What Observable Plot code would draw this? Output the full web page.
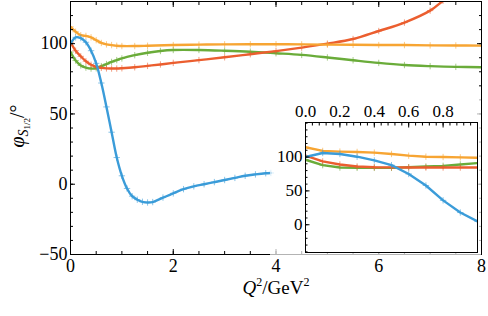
<!DOCTYPE html>
<html><head><meta charset="utf-8">
<script src="https://cdn.jsdelivr.net/npm/d3@7"></script>
<script src="https://cdn.jsdelivr.net/npm/@observablehq/plot@0.6"></script>
<style>
body{margin:0;background:#fff;}
#wrap{position:relative;width:488px;height:316px;}
#main,#inset{position:absolute;}
#main{left:0;top:0;}
#inset{left:270px;top:95px;}
svg text, svg tspan{font-family:"Liberation Serif",serif !important;}
</style></head><body>
<div id="wrap"><div id="main"></div><div id="inset"></div></div>
<script>
// ---- main panel data ----
const blueX   = [0,0.1,0.2,0.3,0.4,0.5,0.6,0.7,0.8,0.9,1.0,1.1,1.2,1.3,1.4,1.5,1.6,1.8,2.0,2.2,2.4,2.6,2.8,3.0,3.2,3.4,3.6,3.8,3.9];
const blueY   = [100,104.5,104,101,95,86,72,55,37,19,6,-3,-8.5,-11,-12.5,-13,-12.7,-9.5,-6.5,-3.5,-1.5,0,1.5,3,4.5,6,7,7.8,8];
const orangeX = [0,0.1,0.2,0.3,0.4,0.5,0.6,0.7,0.8,0.9,1.0,1.25,1.5,2,2.5,3,3.5,4,4.5,5,5.5,6,6.5,7,7.5,8];
const orangeY = [112,108.5,106,105.5,104.5,102.5,100.5,99.5,99,98.5,98.3,98.3,98.5,99,99.3,99.5,99.6,99.6,99.5,99.3,99.2,99,99,98.8,98.7,98.6];
const greenX  = [0,0.1,0.2,0.3,0.4,0.5,0.6,0.7,0.8,0.9,1.0,1.25,1.5,1.75,2,2.5,3,3.5,4,4.5,5,5.5,6,6.5,7,7.5,8];
const greenY  = [94,88,84.5,83,82.3,82.5,84,85.5,87,88.3,89.5,91.8,93.5,94.8,95.5,95.5,95,94.3,93.2,92,90.2,88.2,86.3,84.8,84,83.5,83.2];
const redX    = [0,0.1,0.2,0.3,0.4,0.5,0.6,0.7,0.8,0.9,1.0,1.25,1.5,1.75,2,2.5,3,3.5,4,4.5,5,5.5,6,6.5,7,7.25,7.5];
const redY    = [101,95,91,87.5,85,83.5,82.8,82.4,82.3,82.3,82.5,83.2,84.2,85.2,86.3,88.3,90.3,92.5,94.7,97.2,100,103.3,109,115,123.5,130.5,138];
// ---- inset data ----
const insetX       = [0,0.1,0.2,0.3,0.4,0.5,0.6,0.7,0.8,0.9,1.0];
const insetOrangeY = [114.5,109,108,107.5,106.5,104.5,102,100.5,100,99.5,99];
const insetBlueY   = [100,106,104.5,100.5,95,88,75,58,36,18,5];
const insetGreenY  = [96,88,84.5,84,84,84,85,86,87,89,91];
const insetRedY    = [102,93.5,89,86,85,84.7,84.5,84.5,84.5,84.5,84.5];
// ---- ticks ----
const xMajor = [0,2,4,6,8];
const xMinor = d3.range(0, 8.001, 0.5);
const yMajor = [-50,0,50,100];
const yMinor = d3.range(-50, 131, 10);
const ixMajor = [0,0.2,0.4,0.6,0.8];
const ixMinor = d3.range(0, 1.001, 0.04);
const iyMajor = [0,50,100];
const iyMinor = d3.range(-40, 151, 10);

const colors = {blue:"#3b9cd9", orange:"#f7a533", green:"#6aac3a", red:"#eb5e2f"};
const font = "Liberation Serif";

function rows(xs, ys, key){ return xs.map((x,i)=>({x, y: ys[i], s:key})); }
const mainSeries = [
  ["green", greenX, greenY], ["red", redX, redY], ["orange", orangeX, orangeY], ["blue", blueX, blueY]
].map(([k,xs,ys])=>({k, data: rows(xs,ys,k)}));

function seriesMarks(series, curve){
  const m = [];
  for (const {k, data} of series) {
    m.push(Plot.line(data, {x:"x", y:"y", stroke: colors[k], strokeWidth: 2.4, curve, clip: true}));
    m.push(Plot.dot(data, {x:"x", y:"y", symbol:"plus", r: 2.2, stroke: colors[k], strokeOpacity: 0.6, strokeWidth: 1, clip: true}));
  }
  return m;
}

const main = Plot.plot({
  width: 488, height: 316,
  marginLeft: 70, marginRight: 7, marginTop: 1, marginBottom: 62,
  style: {fontSize: "18px", background: "transparent", color: "#000"},
  x: {domain: [0, 8]},
  y: {domain: [-50, 130]},
  marks: [
    ...seriesMarks(mainSeries, "catmull-rom"),
    Plot.frame({stroke: "#000", strokeWidth: 1}),
    Plot.axisX({ticks: xMajor, tickSize: 0, tickPadding: 5, tickFormat: d => String(d), label: null}),
    Plot.axisX({ticks: xMinor, tickSize: -3, fill: "none", label: null}),
    Plot.axisX({ticks: xMajor, tickSize: -5, fill: "none", label: null}),
    Plot.axisX({anchor: "top", ticks: xMinor, tickSize: -3, fill: "none", label: null}),
    Plot.axisX({anchor: "top", ticks: xMajor, tickSize: -5, fill: "none", label: null}),
    Plot.axisY({ticks: yMajor, tickSize: 0, tickPadding: 3, tickFormat: d => d < 0 ? "\u2212" + Math.abs(d) : String(d), label: null}),
    Plot.axisY({ticks: yMinor, tickSize: -3, fill: "none", label: null}),
    Plot.axisY({ticks: yMajor, tickSize: -5, fill: "none", label: null}),
    Plot.axisY({anchor: "right", ticks: yMinor, tickSize: -3, fill: "none", label: null}),
    Plot.axisY({anchor: "right", ticks: yMajor, tickSize: -5, fill: "none", label: null})
  ]
});
document.getElementById("main").appendChild(main);

const msv = d3.select(main);
// y label
const yl = msv.append("text").attr("transform", "translate(24,126) rotate(-90)")
  .attr("text-anchor", "middle").attr("font-size", 20).attr("fill", "#000");
yl.append("tspan").attr("font-style", "italic").text("\u03C6");
yl.append("tspan").attr("font-style", "italic").attr("font-size", 14).attr("dy", 4).text("S");
yl.append("tspan").attr("font-size", 9).attr("dy", 2).text("1/2");
yl.append("tspan").attr("dy", -6).text("/\u00B0");
// x label
const xl = msv.append("text").attr("x", 276).attr("y", 294)
  .attr("text-anchor", "middle").attr("font-size", 19).attr("fill", "#000");
xl.append("tspan").attr("font-style", "italic").text("Q");
xl.append("tspan").attr("font-size", 12).attr("dy", -8).text("2");
xl.append("tspan").attr("dy", 8).text("/GeV");
xl.append("tspan").attr("font-size", 12).attr("dy", -8).text("2");

// ---- inset ----
const insetSeries = [
  ["green", insetGreenY], ["red", insetRedY], ["orange", insetOrangeY], ["blue", insetBlueY]
].map(([k, ys]) => ({k, data: rows(insetX, ys, k)}));

const inset = Plot.plot({
  width: 211, height: 161,
  marginLeft: 35, marginRight: 4, marginTop: 27, marginBottom: 4,
  style: {fontSize: "17px", background: "rgba(255,255,255,0.7)", color: "#000", overflow: "visible"},
  x: {domain: [0, 1]},
  y: {domain: [-41, 151]},
  marks: [
    Plot.frame({fill: "#fff", stroke: "none"}),
    ...seriesMarks(insetSeries, "linear"),
    Plot.frame({stroke: "#000", strokeWidth: 1}),
    Plot.axisX({anchor: "top", ticks: ixMajor, tickSize: 0, tickPadding: 6, tickFormat: d3.format(".1f"), label: null}),
    Plot.axisX({anchor: "top", ticks: ixMinor, tickSize: -2.5, fill: "none", label: null}),
    Plot.axisX({anchor: "top", ticks: ixMajor, tickSize: -4.5, fill: "none", label: null}),
    Plot.axisY({ticks: iyMajor, tickSize: 0, tickPadding: 3, label: null}),
    Plot.axisY({ticks: iyMinor, tickSize: -2.5, fill: "none", label: null}),
    Plot.axisY({ticks: iyMajor, tickSize: -4.5, fill: "none", label: null})
  ]
});
document.getElementById("inset").appendChild(inset);

for (const s of [main, inset]) {
  s.setAttribute("font-family", font);
  d3.select(s).selectAll("text").attr("font-family", font);
}
</script>
</body></html>
